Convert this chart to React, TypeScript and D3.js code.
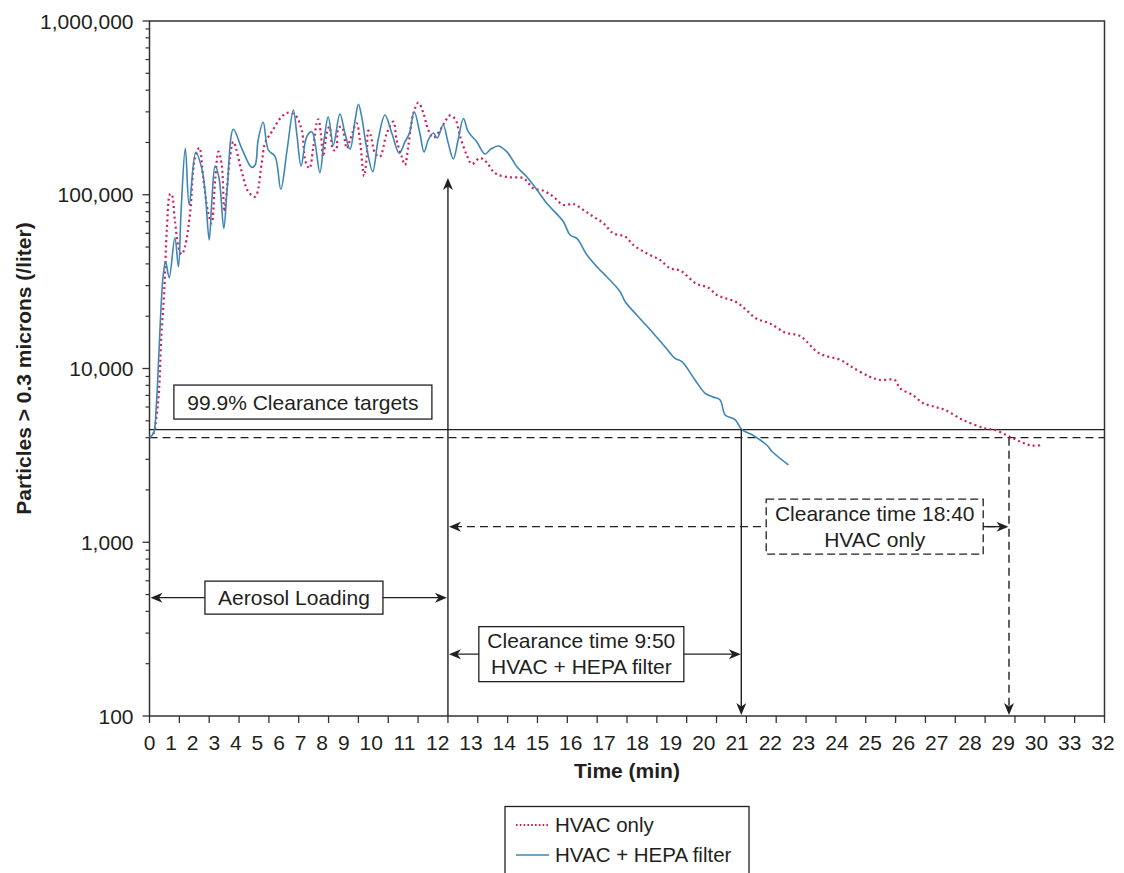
import React from "react";
import * as d3 from "d3";

// ---------- data (time in minutes along the plotted axis, count per liter) ----------
const hepaTime = [0, 0.14, 0.22, 0.32, 0.4, 0.46, 0.54, 0.66, 0.85, 0.97, 1.06, 1.2, 1.33, 1.55, 1.75, 1.86, 2.0, 2.09, 2.2, 2.33, 2.49, 2.6, 2.81, 3.09, 3.42, 3.54, 3.64, 3.81, 3.98, 4.21, 4.4, 4.61, 4.82, 4.94, 5.08, 5.27, 5.44, 5.55, 5.71, 5.85, 5.99, 6.16, 6.38, 6.55, 6.72, 6.89, 7.0, 7.11, 7.26, 7.48, 7.66, 7.89, 8.12, 8.37, 8.56, 8.71, 8.87, 9.06, 9.2, 9.34, 9.51, 9.64, 9.84, 10.0, 10.18, 10.34, 10.52, 10.68, 10.97, 11.24, 11.44, 11.69, 11.97, 12.31, 12.64, 13.03, 13.31, 13.87, 14.09, 14.32, 14.66, 15.04, 15.32, 15.77, 15.94, 16.38, 16.88, 17.28, 17.61, 17.84, 18.28, 18.62, 18.88, 19.12, 19.29, 19.62, 19.85, 20.23, 20.68, 20.86, 21.41];
const hepaCount = [4000, 4260, 5770, 12800, 24800, 34500, 41200, 33300, 56600, 38500, 81700, 185000, 87300, 175500, 141900, 106400, 55000, 93300, 146400, 124800, 64100, 106400, 238000, 185000, 143900, 148400, 206600, 261200, 181000, 165600, 107500, 181000, 307400, 220600, 146400, 216000, 230600, 197700, 133900, 206600, 281300, 193300, 291600, 225800, 182700, 269200, 331600, 281300, 193300, 135800, 206600, 287700, 225800, 173300, 201900, 225800, 300600, 225800, 176200, 206600, 226600, 212100, 251900, 201200, 160600, 206600, 274800, 230600, 201200, 171700, 183300, 190800, 177000, 145000, 127000, 104100, 89300, 69950, 58650, 56140, 45000, 37750, 33750, 27670, 24220, 19870, 15950, 13300, 11450, 10940, 8590, 7195, 6855, 6590, 5400, 5085, 4450, 4115, 3630, 3330, 2785];

const hvacTime = [0, 0.14, 0.22, 0.32, 0.39, 0.5, 0.58, 0.69, 0.74, 0.85, 0.97, 1.08, 1.19, 1.36, 1.52, 1.67, 1.8, 1.97, 2.08, 2.2, 2.31, 2.42, 2.51, 2.59, 2.7, 2.81, 3.09, 3.31, 3.54, 3.76, 3.87, 4.1, 4.43, 4.65, 4.88, 5.1, 5.23, 5.36, 5.49, 5.6, 5.66, 5.74, 5.82, 5.94, 6.03, 6.16, 6.25, 6.33, 6.44, 6.61, 6.72, 6.94, 7.05, 7.14, 7.19, 7.28, 7.33, 7.41, 7.56, 7.72, 7.95, 8.17, 8.28, 8.45, 8.56, 8.67, 8.84, 9.01, 9.18, 9.34, 9.51, 9.74, 9.9, 10.07, 10.24, 10.41, 10.63, 10.8, 11.08, 11.3, 11.52, 11.69, 12.08, 12.53, 12.86, 13.2, 13.53, 13.87, 14.2, 14.54, 14.87, 15.21, 15.54, 15.94, 16.21, 16.66, 17.11, 17.44, 17.78, 18.34, 18.72, 19.01, 19.3, 19.65, 19.96, 20.33, 20.79, 21.3, 21.8, 22.44, 23.16, 23.52, 24.13, 24.48, 24.97, 25.15, 25.57, 25.93, 26.29, 26.66, 27.26, 27.98, 28.34, 28.82, 29.19, 29.55, 29.91];
const hvacCount = [4000, 4250, 5055, 7520, 14590, 28960, 62700, 101000, 101000, 71600, 50230, 45420, 50230, 78200, 162100, 186600, 124400, 78200, 68500, 121600, 177000, 148400, 79850, 106400, 165600, 201900, 135800, 104100, 97500, 151700, 197700, 230600, 281300, 296700, 287700, 235900, 155000, 141900, 189100, 257800, 271800, 225800, 165600, 225800, 246400, 181000, 181000, 241300, 246400, 185000, 206600, 257800, 206600, 145000, 128200, 165600, 233700, 220600, 173300, 165600, 225800, 263300, 206600, 165600, 148400, 189100, 294100, 338600, 294100, 235900, 213000, 235900, 263300, 286000, 272900, 216000, 169300, 150300, 162800, 153400, 135800, 130000, 126000, 124400, 108900, 105500, 97500, 87300, 88500, 81700, 74800, 68500, 60000, 57400, 51400, 46030, 42100, 37750, 36640, 30640, 29260, 26490, 25350, 24150, 21990, 19400, 18160, 16110, 15380, 12230, 11190, 10240, 8970, 8590, 8590, 7690, 7035, 6310, 6030, 5770, 5055, 4530, 4425, 4050, 3790, 3600, 3630];

const xTickValues = d3.range(0, 33);
const xTickLabels = ["0", "1", "2", "3", "4", "5", "6", "7", "8", "9", "10", "11", "12", "13", "14", "15", "16", "17", "18", "19", "20", "21", "22", "23", "24", "25", "26", "27", "28", "29", "30", "33", "32"];
const yTickValues = [100, 1000, 10000, 100000, 1000000];
const yTickLabels = ["100", "1,000", "10,000", "100,000", "1,000,000"];

// annotation values
const targetHepa = 4450;
const targetHvac = 4000;
const loadingEnd = 10;
const loadingArrowTop = 125000;
const hepaClear = 19.83;
const hvacClear = 28.8;
const loadingArrowLevel = 480;
const hepaArrowLevel = 227;
const hvacArrowLevel = 1230;
const targetsBoxAt = [5.14, 6410];
const loadingBoxAt = [4.84, 480];
const hepaBoxAt = [14.47, 227];
const hvacBoxAt = [24.3, 1230];

const seriesNames = ["HVAC only", "HVAC + HEPA filter"];

const FONT = "'Liberation Sans', Arial, Helvetica, sans-serif";
const INK = "#231f20";
const BLUE = "#3f86b5";
const RED = "#cc1f5c";

function Arrow({ x, y, dir }: { x: number; y: number; dir: "up" | "down" | "left" | "right" }) {
  const rot = { right: 0, down: 90, left: 180, up: -90 }[dir];
  return <path d="M0,0 L-12,-5 L-8.5,0 L-12,5 Z" fill={INK} transform={`translate(${x},${y}) rotate(${rot})`} />;
}

export default function App() {
  const W = 1124, H = 873;
  const x = d3.scaleLinear().domain([0, 32]).range([149.5, 1104.5]);
  const y = d3.scaleLog().domain([100, 1e6]).range([716, 21]);
  const line = d3
    .line<[number, number]>()
    .x((d) => x(d[0]))
    .y((d) => y(d[1]))
    .curve(d3.curveCatmullRom.alpha(0.5));

  const hepa = hepaTime.map((t, i) => [t, hepaCount[i]] as [number, number]);
  const hvac = hvacTime.map((t, i) => [t, hvacCount[i]] as [number, number]);

  const fs = 21;
  const digitW = 0.556 * fs;
  const widths = xTickLabels.map((l) => l.length * digitW);
  const left = x(0) - widths[0] / 2;
  const right = x(32) - 1.5 + widths[widths.length - 1] / 2;
  const gap = (right - left - d3.sum(widths)) / (xTickLabels.length - 1);
  const labelX: number[] = [];
  let cur = left;
  widths.forEach((w) => {
    labelX.push(cur + w / 2);
    cur += w + gap;
  });

  const minor: number[] = [];
  for (let k = 2; k < 6; k++) for (let m = 2; m < 10; m++) minor.push(m * Math.pow(10, k));

  const [x0, x1] = x.range();
  const yb = y(100), yt = y(1e6);

  const box = (cx: number, cy: number, w: number, h: number, dashed = false) => (
    <rect x={cx - w / 2} y={cy - h / 2} width={w} height={h} fill="#fff" stroke={INK} strokeWidth={1.3} strokeDasharray={dashed ? "8 4" : undefined} />
  );

  return (
    <svg width={W} height={H} style={{ position: "absolute", left: 0, top: 0, background: "#fff" }} fontFamily={FONT}>
      <rect width={W} height={H} fill="#fff" />
      {/* frame */}
      <rect x={x0} y={yt} width={x1 - x0} height={yb - yt} fill="none" stroke="#333" strokeWidth={1.5} />

      {/* y ticks */}
      {minor.map((v) => (
        <line key={"m" + v} x1={x0 - 4} x2={x0} y1={y(v)} y2={y(v)} stroke="#333" strokeWidth={1.2} />
      ))}
      {yTickValues.map((v, i) => (
        <g key={"y" + v}>
          <line x1={x0 - 7} x2={x0} y1={y(v)} y2={y(v)} stroke="#333" strokeWidth={1.3} />
          <text x={x0 - 16} y={y(v)} dy="0.36em" textAnchor="end" fontSize={fs} fill={INK}>
            {yTickLabels[i]}
          </text>
        </g>
      ))}

      {/* x ticks */}
      {xTickValues.map((t) => (
        <line key={"x" + t} x1={x(t)} x2={x(t)} y1={yb} y2={yb + 7} stroke="#333" strokeWidth={1.3} />
      ))}
      {xTickLabels.map((l, i) => (
        <text key={"xl" + i} x={labelX[i]} y={750} textAnchor="middle" fontSize={fs} fill={INK}>
          {l}
        </text>
      ))}

      {/* axis titles */}
      <text x={(x0 + x1) / 2} y={778} textAnchor="middle" fontSize={fs} fontWeight="bold" fill={INK}>
        Time (min)
      </text>
      <text transform={`translate(31,${(yt + yb) / 2}) rotate(-90)`} textAnchor="middle" fontSize={fs} fontWeight="bold" fill={INK}>
        Particles &gt; 0.3 microns (/liter)
      </text>

      {/* clearance target lines */}
      <line x1={x0} x2={x1} y1={y(targetHepa)} y2={y(targetHepa)} stroke={INK} strokeWidth={1.3} />
      <line x1={x0} x2={x1} y1={y(targetHvac)} y2={y(targetHvac)} stroke={INK} strokeWidth={1.3} strokeDasharray="8 5" />

      {/* series */}
      <path d={line(hvac) || ""} fill="none" stroke={RED} strokeWidth={2.2} strokeDasharray="2 3.2" />
      <path d={line(hepa) || ""} fill="none" stroke={BLUE} strokeWidth={1.6} />

      {/* loading vertical arrow */}
      <line x1={x(loadingEnd)} x2={x(loadingEnd)} y1={yb} y2={y(loadingArrowTop) + 8} stroke={INK} strokeWidth={1.4} />
      <Arrow x={x(loadingEnd)} y={y(loadingArrowTop)} dir="up" />

      {/* HEPA clearance vertical */}
      <line x1={x(hepaClear)} x2={x(hepaClear)} y1={y(targetHepa)} y2={yb - 8} stroke={INK} strokeWidth={1.4} />
      <Arrow x={x(hepaClear)} y={yb - 1} dir="down" />
      {/* HVAC clearance vertical */}
      <line x1={x(hvacClear)} x2={x(hvacClear)} y1={y(targetHvac)} y2={yb - 8} stroke={INK} strokeWidth={1.4} strokeDasharray="8 5" />
      <Arrow x={x(hvacClear)} y={yb - 1} dir="down" />

      {/* aerosol loading */}
      <line x1={x(0) + 6} x2={x(loadingEnd) - 6} y1={y(loadingArrowLevel)} y2={y(loadingArrowLevel)} stroke={INK} strokeWidth={1.4} />
      <Arrow x={x(0) + 1} y={y(loadingArrowLevel)} dir="left" />
      <Arrow x={x(loadingEnd) - 1} y={y(loadingArrowLevel)} dir="right" />
      {box(x(loadingBoxAt[0]), y(loadingBoxAt[1]), 178, 33)}
      <text x={x(loadingBoxAt[0])} y={y(loadingBoxAt[1])} dy="0.36em" textAnchor="middle" fontSize={fs} fill={INK}>
        Aerosol Loading
      </text>

      {/* targets label */}
      {box(x(targetsBoxAt[0]), y(targetsBoxAt[1]), 258, 34)}
      <text x={x(targetsBoxAt[0])} y={y(targetsBoxAt[1])} dy="0.36em" textAnchor="middle" fontSize={fs} fill={INK}>
        99.9% Clearance targets
      </text>

      {/* HEPA clearance */}
      <line x1={x(loadingEnd) + 6} x2={x(hepaClear) - 6} y1={y(hepaArrowLevel)} y2={y(hepaArrowLevel)} stroke={INK} strokeWidth={1.4} />
      <Arrow x={x(loadingEnd) + 1} y={y(hepaArrowLevel)} dir="left" />
      <Arrow x={x(hepaClear) - 0.5} y={y(hepaArrowLevel)} dir="right" />
      {box(x(hepaBoxAt[0]), y(hepaBoxAt[1]), 205, 55)}
      <text x={x(hepaBoxAt[0])} y={y(hepaBoxAt[1]) - 6} textAnchor="middle" fontSize={fs} fill={INK}>
        Clearance time 9:50
      </text>
      <text x={x(hepaBoxAt[0])} y={y(hepaBoxAt[1]) + 19.5} textAnchor="middle" fontSize={fs} fill={INK}>
        HVAC + HEPA filter
      </text>

      {/* HVAC clearance */}
      <line x1={x(loadingEnd) + 6} x2={x(hvacClear) - 6} y1={y(hvacArrowLevel)} y2={y(hvacArrowLevel)} stroke={INK} strokeWidth={1.4} strokeDasharray="8 5" />
      <line x1={x(hvacBoxAt[0]) + 100} x2={x(hvacClear) - 6} y1={y(hvacArrowLevel)} y2={y(hvacArrowLevel)} stroke={INK} strokeWidth={1.4} />
      <Arrow x={x(loadingEnd) + 1} y={y(hvacArrowLevel)} dir="left" />
      <Arrow x={x(hvacClear) - 0.5} y={y(hvacArrowLevel)} dir="right" />
      {box(x(hvacBoxAt[0]), y(hvacBoxAt[1]), 217, 55, true)}
      <text x={x(hvacBoxAt[0])} y={y(hvacBoxAt[1]) - 5.5} textAnchor="middle" fontSize={fs} fill={INK}>
        Clearance time 18:40
      </text>
      <text x={x(hvacBoxAt[0])} y={y(hvacBoxAt[1]) + 20} textAnchor="middle" fontSize={fs} fill={INK}>
        HVAC only
      </text>

      {/* legend */}
      <rect x={505} y={806.5} width={244} height={80} fill="#fff" stroke={INK} strokeWidth={1.3} />
      <line x1={516} x2={549} y1={825} y2={825} stroke={RED} strokeWidth={2} strokeDasharray="1.6 2.2" />
      <text x={555} y={832} fontSize={20.5} fill={INK}>
        {seriesNames[0]}
      </text>
      <line x1={516} x2={549} y1={855} y2={855} stroke={BLUE} strokeWidth={1.6} />
      <text x={555} y={862} fontSize={20.5} fill={INK}>
        {seriesNames[1]}
      </text>
    </svg>
  );
}
